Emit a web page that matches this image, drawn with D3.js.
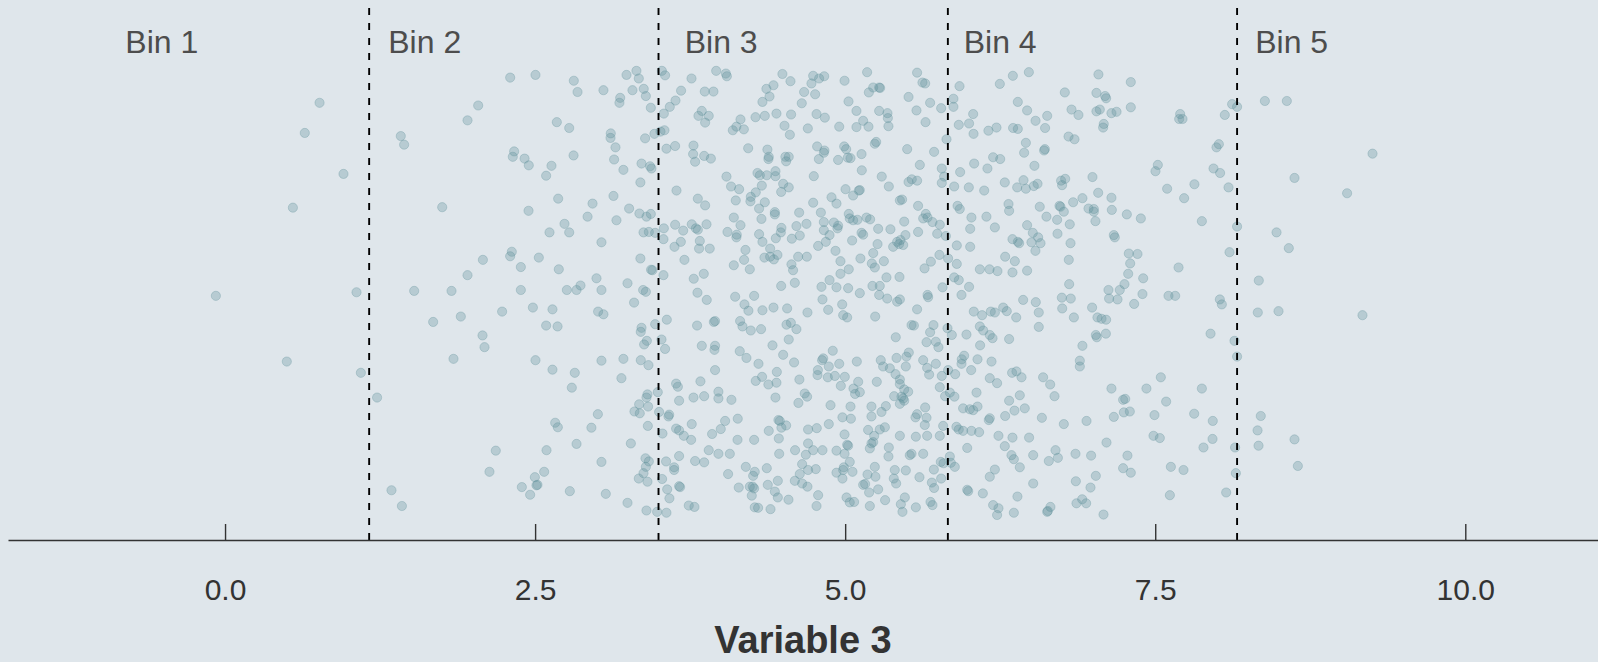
<!DOCTYPE html>
<html>
<head>
<meta charset="utf-8">
<script src="https://cdnjs.cloudflare.com/ajax/libs/d3/7.8.5/d3.min.js"></script>
<style>
	body { margin: 0; background: #dfe6eb; }
	svg { display: block; }
</style>
</head>
<body>
<div id="chart"></div>
<script>
// bin boundaries and labels
var binEdges = [1.162, 3.495, 5.828, 8.160];
var binLabels = ["Bin 1", "Bin 2", "Bin 3", "Bin 4", "Bin 5"];
var binLabelX = [-0.51, 1.61, 4.0, 6.25, 8.6];
var xTicks = [0, 2.5, 5, 7.5, 10];
var xTitle = "Variable 3";

// [variable 3, vertical jitter]
var points = [
[0.762,0.916],[0.643,0.849],[0.955,0.758],[0.547,0.683],[-0.074,0.487],[1.060,0.495],[0.498,0.341],[1.095,0.316],[1.226,0.261],
[8.384,0.920],[8.561,0.920],[9.252,0.803],[8.623,0.749],[9.047,0.715],[8.478,0.628],[8.577,0.593],[8.335,0.521],[8.327,0.450],[8.494,0.453],
[9.171,0.444],[8.351,0.220],[8.325,0.188],[8.623,0.168],[8.333,0.154],[8.650,0.109],
[2.299,0.972],[2.503,0.978],[2.812,0.965],[2.842,0.940],[2.041,0.910],[1.955,0.877],[2.675,0.873],[2.775,0.860],[1.417,0.842],[1.444,0.823],
[2.331,0.808],[2.320,0.796],[2.415,0.792],[2.449,0.777],[2.810,0.799],[2.632,0.776],[2.589,0.754],[1.751,0.684],[2.686,0.703],[2.447,0.676],
[2.923,0.663],[2.737,0.647],[2.775,0.628],[2.616,0.628],[2.312,0.585],[2.299,0.575],[2.079,0.567],[2.530,0.572],[2.385,0.551],[2.691,0.546],
[1.955,0.533],[2.866,0.510],
[1.525,0.498],[1.826,0.498],[2.385,0.500],[2.756,0.500],[2.834,0.500],[1.678,0.429],[1.901,0.441],[2.234,0.452],[2.482,0.461],[2.640,0.457],
[2.589,0.421],[2.681,0.419],[2.076,0.399],[2.092,0.373],[1.842,0.347],[2.503,0.344],[2.640,0.323],[2.820,0.316],[2.796,0.283],[2.662,0.205],
[2.683,0.195],[2.834,0.158],[2.183,0.143],[2.592,0.144],[2.132,0.096],[2.573,0.096],[2.498,0.084],[2.511,0.066],[2.519,0.067],[2.393,0.062],
[2.460,0.045],[2.780,0.053],[1.342,0.055],[1.426,0.020],
[3.237,0.978],[3.317,0.987],[3.336,0.970],[3.051,0.944],[3.285,0.944],[3.376,0.947],[3.393,0.931],[3.186,0.927],[3.180,0.916],[3.433,0.905],
[3.522,0.987],[3.548,0.977],[3.761,0.970],[3.960,0.987],[4.038,0.981],[4.046,0.975],[3.677,0.943],[3.632,0.921],[3.586,0.907],[3.538,0.892],
[3.868,0.941],[3.938,0.941],[3.844,0.898],[3.817,0.887],[3.900,0.887],[3.871,0.872],[4.494,0.980],[4.559,0.964],[4.365,0.947],[4.422,0.955],
[4.669,0.940],[4.390,0.930],[4.333,0.918],[4.650,0.915],[4.277,0.884],[4.352,0.887],[4.446,0.892],[4.564,0.890],[4.156,0.879],[4.094,0.855],
[4.123,0.863],[4.183,0.857],[4.511,0.865],[4.554,0.845],[4.699,0.859],[3.110,0.848],[3.108,0.838],[3.148,0.817],[3.137,0.790],[3.212,0.767],
[3.387,0.837],[3.462,0.847],[3.511,0.852],[3.543,0.855],[3.559,0.814],[3.629,0.820],[3.777,0.821],[3.774,0.802],[3.790,0.785],[3.863,0.798],
[3.917,0.792],[3.358,0.781],[3.427,0.775],[3.438,0.770],[3.349,0.739],[4.218,0.815],[4.373,0.812],[4.384,0.796],[4.381,0.791],[4.518,0.796],
[4.545,0.796],[4.524,0.786],[4.438,0.764],[4.438,0.753],[4.368,0.755],[4.312,0.755],[4.293,0.760],[4.328,0.732],[4.043,0.752],[4.080,0.730],
[4.145,0.724],[4.500,0.736],[4.545,0.728],[4.484,0.718],[4.279,0.717],[4.239,0.707],[4.236,0.697],[4.118,0.699],[4.352,0.695],[4.306,0.681],
[4.433,0.673],[4.433,0.668],[4.629,0.672],[4.325,0.658],[4.102,0.661],[4.156,0.644],[4.051,0.629],[4.126,0.623],[4.123,0.617],[4.306,0.624],
[4.333,0.607],[4.441,0.615],[4.486,0.638],[4.481,0.628],[4.570,0.614],[4.634,0.621],[4.607,0.642],[4.688,0.647],[4.395,0.592],[4.196,0.589],
[4.185,0.567],[4.349,0.572],[4.395,0.574],[4.425,0.568],[4.454,0.578],[4.621,0.574],[4.691,0.574],[4.567,0.557],[4.580,0.544],[4.594,0.516],
[4.231,0.546],[4.102,0.555],[4.484,0.509],[3.132,0.709],[2.963,0.692],[3.258,0.681],[3.341,0.670],[3.398,0.663],[3.433,0.669],[3.156,0.655],
[3.035,0.606],[3.374,0.628],[3.417,0.629],[3.468,0.627],[3.538,0.637],[3.535,0.613],[3.629,0.645],[3.694,0.632],[3.763,0.646],[3.796,0.637],
[3.812,0.634],[3.882,0.646],[3.624,0.596],[3.675,0.607],[3.828,0.609],[3.822,0.592],[3.908,0.592],[3.640,0.721],[3.812,0.703],[3.871,0.688],
[3.349,0.570],[3.435,0.545],[3.446,0.544],[3.535,0.533],[3.704,0.567],[3.779,0.525],[3.860,0.536],[2.995,0.526],[3.245,0.515],
[3.035,0.500],[3.371,0.500],[3.393,0.496],[3.809,0.494],[3.884,0.478],[4.113,0.485],[4.266,0.487],[3.298,0.472],[3.008,0.452],[3.051,0.446],
[3.358,0.416],[3.352,0.407],[3.468,0.424],[3.562,0.434],[3.401,0.387],[3.379,0.379],[3.519,0.390],[3.548,0.369],[3.806,0.421],[3.941,0.429],
[3.951,0.431],[3.844,0.376],[3.951,0.376],[3.946,0.367],[4.153,0.431],[4.172,0.419],[4.239,0.410],[4.220,0.454],[4.188,0.468],[4.333,0.455],
[4.422,0.461],[4.532,0.459],[4.696,0.450],[4.322,0.413],[4.527,0.423],[4.562,0.427],[4.607,0.413],[4.545,0.390],[4.414,0.377],[4.150,0.364],
[4.204,0.349],[4.500,0.356],[4.588,0.339],[4.301,0.336],[3.035,0.343],[3.212,0.347],[3.352,0.344],[3.414,0.333],[3.196,0.304],[3.951,0.322],
[4.279,0.298],[4.330,0.307],[4.381,0.290],[4.449,0.318],[4.446,0.294],[4.631,0.301],[3.833,0.297],[3.637,0.292],[3.651,0.285],[3.661,0.254],
[3.777,0.261],[3.863,0.264],[3.978,0.274],[3.978,0.259],[4.083,0.256],[4.438,0.261],[4.623,0.249],[4.674,0.270],[4.693,0.263],[3.406,0.268],
[3.398,0.261],[3.489,0.273],[3.339,0.246],[3.411,0.241],[3.301,0.230],[3.344,0.226],[3.006,0.224],[3.500,0.229],[3.581,0.223],[3.575,0.219],
[2.954,0.194],[3.409,0.198],[3.527,0.181],[3.637,0.192],[3.661,0.188],[3.699,0.176],[3.758,0.167],[3.763,0.202],[3.927,0.180],[3.997,0.191],
[4.032,0.209],[4.134,0.214],[4.132,0.167],[4.266,0.167],[4.384,0.187],[4.462,0.211],[4.473,0.209],[4.486,0.194],[4.524,0.199],[4.465,0.170],
[4.701,0.190],[3.272,0.159],[3.035,0.118],[3.390,0.126],[3.417,0.119],[3.393,0.107],[3.374,0.093],[3.336,0.081],[3.406,0.074],[3.556,0.119],
[3.621,0.106],[3.621,0.100],[3.661,0.131],[3.790,0.120],[3.863,0.117],[3.900,0.144],[3.978,0.136],[4.070,0.136],[4.468,0.136],[4.596,0.144],
[4.701,0.159],[4.683,0.134],[4.653,0.113],[4.701,0.100],[3.524,0.080],[3.565,0.057],[3.583,0.037],[3.661,0.064],[3.669,0.062],[3.739,0.021],
[3.785,0.018],[3.245,0.027],[3.070,0.047],[3.398,0.010],[3.484,0.007],[3.559,0.005],[4.056,0.091],[4.142,0.061],[4.199,0.107],[4.271,0.096],
[4.258,0.087],[4.368,0.104],[4.231,0.063],[4.255,0.063],[4.266,0.059],[4.247,0.043],[4.376,0.067],[4.457,0.076],[4.433,0.052],[4.457,0.039],
[4.543,0.034],[4.594,0.076],[4.634,0.091],[4.653,0.070],[4.696,0.063],[4.271,0.017],[4.298,0.016],[4.398,0.013],
[4.742,0.976],[4.790,0.970],[4.831,0.975],[4.728,0.959],[4.758,0.935],[4.995,0.965],[5.177,0.984],[5.226,0.950],[5.274,0.950],[5.282,0.949],
[5.191,0.939],[5.027,0.919],[5.091,0.898],[5.274,0.898],[5.341,0.893],[5.344,0.882],[5.349,0.864],[5.145,0.876],[5.188,0.863],[5.091,0.862],
[4.952,0.863],[4.769,0.891],[4.836,0.883],[4.774,0.819],[4.833,0.810],[4.828,0.805],[4.788,0.791],[4.943,0.789],[4.992,0.819],[5.008,0.813],
[5.021,0.794],[5.043,0.793],[5.132,0.802],[5.239,0.825],[5.250,0.829],[5.134,0.766],[4.747,0.753],[5.295,0.752],[5.352,0.730],[5.003,0.724],
[5.118,0.722],[5.110,0.721],[5.064,0.710],[4.890,0.706],[4.930,0.692],[4.742,0.694],[4.804,0.672],[4.828,0.651],[4.909,0.650],[4.943,0.643],
[4.938,0.637],[4.874,0.622],[4.828,0.633],[4.844,0.607],[4.782,0.598],[5.029,0.669],[5.037,0.659],[5.064,0.655],[5.099,0.656],
[5.172,0.661],[5.201,0.657],[5.132,0.627],[5.145,0.623],[5.056,0.610],[5.266,0.636],[5.365,0.635],[5.261,0.602],[4.922,0.587],[4.962,0.564],
[5.029,0.546],[4.962,0.536],[4.874,0.522],[4.809,0.507],[4.930,0.506],[5.024,0.504],[5.226,0.582],[5.215,0.559],[5.239,0.550],[5.123,0.570],
[5.312,0.564],[5.333,0.528],[5.438,0.529],[5.220,0.509],[5.279,0.509],[5.580,0.983],[5.623,0.961],[5.645,0.959],[5.511,0.929],[5.575,0.899],
[5.685,0.916],[5.648,0.873],[5.774,0.904],[5.873,0.925],[5.873,0.907],[5.500,0.813],[5.602,0.778],[5.717,0.807],[5.817,0.835],[5.779,0.770],
[5.798,0.752],[5.779,0.738],[5.511,0.740],[5.537,0.746],[5.580,0.743],[5.441,0.699],[5.459,0.701],[5.588,0.687],[5.650,0.669],[5.664,0.661],
[5.704,0.651],[5.629,0.659],[5.763,0.645],[5.742,0.625],[5.812,0.620],[5.476,0.652],[5.588,0.629],[5.486,0.622],[5.419,0.607],[5.446,0.611],
[5.435,0.602],[5.387,0.596],[5.468,0.600],[5.640,0.548],[5.691,0.563],[5.760,0.578],[5.830,0.570],[5.785,0.506],[5.879,0.528],[5.916,0.522],
[5.900,0.558],[5.900,0.599],[6.008,0.596],[6.018,0.661],[6.008,0.636],[6.207,0.639],[6.139,0.663],[5.924,0.680],[5.906,0.687],[5.879,0.730],
[5.997,0.728],[6.121,0.721],[5.927,0.762],[6.040,0.781],[6.147,0.770],[6.193,0.795],[6.250,0.791],[5.916,0.867],[5.999,0.870],[6.032,0.891],
[6.035,0.847],[6.155,0.854],[6.220,0.861],[6.354,0.860],[6.392,0.858],[5.922,0.953],[6.247,0.958],[6.352,0.976],[6.392,0.918],[6.467,0.899],
[6.481,0.984],[6.457,0.827],[6.443,0.805],[6.438,0.744],[6.387,0.728],[6.457,0.725],[6.287,0.739],[6.317,0.691],[6.322,0.676],[6.467,0.644],
[6.349,0.613],[6.392,0.607],[6.290,0.574],[6.368,0.564],[6.349,0.539],[6.467,0.543],[6.086,0.546],[6.164,0.546],[6.228,0.542],[5.999,0.507],
[6.403,0.604],
[5.118,0.493],[5.274,0.489],[5.339,0.481],[5.419,0.474],[5.441,0.479],[5.664,0.489],[5.669,0.484],[5.938,0.489],
[4.817,0.479],[4.863,0.456],[4.976,0.468],[4.984,0.444],[5.016,0.439],[5.242,0.441],[5.580,0.457],[5.535,0.422],[5.554,0.421],
[5.408,0.395],[5.656,0.384],[5.685,0.406],[5.712,0.422],[5.731,0.385],[5.752,0.373],[5.825,0.415],[5.860,0.400],[5.978,0.401],[6.037,0.452],
[6.104,0.444],[6.174,0.452],[6.207,0.450],[6.274,0.461],[6.303,0.453],[6.379,0.439],[6.435,0.478],[6.086,0.419],[6.113,0.410],[6.166,0.400],
[6.188,0.393],[6.322,0.391],[6.088,0.377],[4.900,0.365],[4.823,0.348],[4.814,0.344],[4.952,0.336],[4.868,0.330],[4.780,0.322],[4.777,0.311],
[4.860,0.306],[4.917,0.309],[4.997,0.307],[4.965,0.287],[5.094,0.341],[5.287,0.344],[5.306,0.330],[5.360,0.326],[5.414,0.349],[5.494,0.352],
[5.513,0.361],[5.489,0.330],[5.406,0.313],[5.441,0.301],[5.629,0.344],[5.661,0.327],[5.731,0.336],[5.677,0.312],[5.779,0.309],[5.887,0.313],
[5.830,0.322],[5.940,0.346],[5.959,0.354],[5.938,0.336],[6.016,0.322],[6.067,0.346],[6.180,0.341],[6.166,0.304],[6.225,0.293],[6.346,0.316],
[6.381,0.319],[6.422,0.306],[5.067,0.281],[5.105,0.296],[5.080,0.269],[5.118,0.273],[5.043,0.241],[4.882,0.244],[5.255,0.296],
[5.395,0.264],[5.441,0.291],[5.476,0.279],[5.508,0.274],[5.454,0.263],[5.468,0.259],[5.441,0.247],[5.476,0.254],[5.328,0.242],[5.293,0.229],
[5.212,0.241],[5.212,0.219],[4.978,0.217],[5.046,0.214],[4.868,0.202],[4.771,0.193],[4.995,0.179],[5.185,0.189],[5.234,0.176],
[5.212,0.159],[5.226,0.162],[5.279,0.190],[5.320,0.195],[5.441,0.176],[5.570,0.174],[5.661,0.176],[5.763,0.176],[5.645,0.239],[5.580,0.224],
[5.656,0.216],[5.567,0.217],[5.642,0.200],[5.790,0.198],[5.763,0.284],[5.806,0.264],[5.881,0.263],[5.844,0.272],[6.059,0.272],[5.951,0.237],
[6.005,0.235],[6.032,0.233],[6.067,0.241],[5.897,0.196],[5.916,0.190],[5.951,0.187],[6.018,0.187],[6.080,0.184],[6.158,0.211],[6.166,0.215],
[6.290,0.220],[6.322,0.254],[6.408,0.266],[6.448,0.237],[6.365,0.232],[6.236,0.176],[6.349,0.172],[6.483,0.172],[5.984,0.149],[6.287,0.153],
[6.341,0.133],[6.360,0.124],[6.408,0.106],[6.207,0.101],[6.166,0.085],[4.742,0.144],[4.817,0.144],[4.930,0.143],[5.016,0.156],
[5.024,0.154],[4.995,0.136],[5.199,0.148],[5.352,0.150],[5.349,0.130],[5.535,0.136],[5.629,0.136],[5.521,0.133],[5.844,0.130],[5.852,0.116],
[5.884,0.107],[5.771,0.118],[5.715,0.101],[5.793,0.115],[5.037,0.118],[4.989,0.106],[4.984,0.100],[4.763,0.102],[4.930,0.094],
[4.978,0.081],[5.059,0.096],[5.180,0.090],[5.244,0.085],[5.239,0.107],[5.400,0.100],[5.489,0.099],[5.392,0.081],[5.411,0.070],[5.599,0.084],
[5.699,0.072],[5.717,0.060],[5.774,0.081],[5.145,0.067],[5.161,0.069],[5.193,0.050],[5.266,0.057],[4.782,0.044],[4.769,0.020],[5.011,0.039],
[5.037,0.028],[5.072,0.029],[5.199,0.020],[5.322,0.033],[5.449,0.024],[5.481,0.039],[5.462,0.007],[5.570,0.017],[5.688,0.029],[5.704,0.022],
[5.984,0.056],[5.992,0.053],[6.110,0.048],[6.193,0.022],[6.236,0.015],[6.225,0.000],[6.389,0.041],[6.360,0.005],
[7.042,0.979],[7.303,0.962],[6.771,0.939],[7.026,0.938],[7.096,0.931],[7.104,0.926],[6.825,0.901],[6.881,0.889],[7.026,0.897],[7.053,0.901],
[7.147,0.893],[7.188,0.896],[7.303,0.906],[6.535,0.876],[6.629,0.887],[6.612,0.860],[6.801,0.841],[6.849,0.835],[7.085,0.869],[7.080,0.861],
[6.610,0.813],[6.604,0.810],[6.526,0.776],[6.521,0.731],[6.551,0.736],[6.741,0.743],[6.774,0.747],[6.749,0.733],[6.994,0.751],[7.040,0.716],
[6.913,0.704],[6.838,0.695],[6.728,0.687],[6.736,0.685],[6.763,0.674],[6.569,0.685],[6.623,0.663],[6.709,0.656],[6.811,0.646],[6.962,0.681],
[7.005,0.680],[7.005,0.674],[7.018,0.653],[7.147,0.705],[7.150,0.678],[7.271,0.668],[7.384,0.659],[7.166,0.622],[7.174,0.617],[6.513,0.627],
[6.556,0.617],[6.575,0.604],[6.502,0.606],[6.534,0.587],[6.712,0.625],[6.817,0.604],[6.803,0.567],[7.287,0.581],[7.357,0.580],[7.298,0.559],
[7.282,0.536],[7.403,0.526],[7.252,0.513],[6.806,0.513],[7.521,0.778],[7.502,0.764],[7.596,0.725],[7.733,0.704],[7.816,0.735],[7.876,0.653],
[7.701,0.891],[7.693,0.880],[7.720,0.880],[8.061,0.889],[8.120,0.913],[8.160,0.907],[7.994,0.817],[8.013,0.824],[7.970,0.770],[8.023,0.760],
[8.091,0.728],[8.160,0.641],[8.099,0.584],[7.688,0.550],
[7.123,0.500],[7.214,0.500],[7.128,0.481],[7.196,0.479],[7.397,0.491],[7.607,0.487],[7.661,0.487],[8.021,0.479],[8.037,0.468],
[6.537,0.473],[6.561,0.450],[6.561,0.418],[6.747,0.483],[6.819,0.481],[6.750,0.459],[6.844,0.439],[6.991,0.461],[7.034,0.439],[7.067,0.436],
[7.104,0.434],[7.330,0.469],[7.021,0.400],[7.029,0.395],[7.102,0.403],[6.913,0.376],[6.892,0.343],[6.892,0.330],[7.946,0.403],[8.139,0.387],
[8.160,0.352],[6.596,0.306],[6.653,0.290],[6.688,0.264],[7.147,0.281],[7.429,0.281],[7.545,0.306],[7.876,0.281],[7.241,0.256],[7.258,0.258],
[7.247,0.228],[7.295,0.230],[7.166,0.218],[7.588,0.252],[7.494,0.222],[7.814,0.225],[7.964,0.209],[6.586,0.216],[6.763,0.202],[6.946,0.209],
[6.516,0.133],[6.642,0.120],[6.696,0.144],[6.715,0.127],[6.857,0.136],[6.983,0.132],[7.107,0.161],[7.276,0.132],[7.486,0.176],[7.537,0.171],
[7.962,0.169],[7.889,0.150],[8.144,0.150],[7.241,0.104],[7.303,0.094],[7.626,0.107],[7.728,0.100],[8.150,0.093],[6.516,0.070],[6.860,0.075],
[7.021,0.087],[6.978,0.061],[6.865,0.026],[6.911,0.035],[6.943,0.026],[6.629,0.007],[6.634,0.009],[6.655,0.018],[7.083,0.001],[7.618,0.044],
[8.072,0.050]
];

var width = 1598,
	height = 662,
	margin = {top: 0, right: 0, bottom: 122, left: 8},
	axisY = height - margin.bottom;

var svg = d3.select("#chart")
	.append("svg")
	.attr("width", width)
	.attr("height", height)
	.style("font-family", "'Liberation Sans', Arial, sans-serif");

svg.append("rect")
	.attr("width", width)
	.attr("height", height)
	.attr("fill", "#dfe6eb");

var x = d3.scaleLinear()
	.domain([-1.75, 11.07])
	.range([margin.left, width - margin.right]);

// jitter has no meaning, it only spreads the points
var y = d3.scaleLinear()
	.domain([0, 1])
	.range([axisY - 25, 65]);

svg.append("g")
	.selectAll("circle")
	.data(points)
	.enter().append("circle")
	.attr("cx", function(d) { return x(d[0]); })
	.attr("cy", function(d) { return y(d[1]); })
	.attr("r", 4.6)
	.style("fill", "#5c8f99")
	.style("fill-opacity", 0.3)
	.style("stroke", "#5c8f99")
	.style("stroke-opacity", 0.3)
	.style("stroke-width", 1);

svg.append("g")
	.selectAll("line")
	.data(binEdges)
	.enter().append("line")
	.attr("x1", function(d) { return x(d); })
	.attr("x2", function(d) { return x(d); })
	.attr("y1", axisY)
	.attr("y2", 0)
	.style("stroke", "#000")
	.style("stroke-width", 1.9)
	.style("stroke-dasharray", "7,8");

svg.append("g")
	.selectAll("text")
	.data(binLabels)
	.enter().append("text")
	.attr("x", function(d, i) { return x(binLabelX[i]); })
	.attr("y", 52.5)
	.attr("text-anchor", "middle")
	.style("font-size", "32px")
	.style("fill", "#4d4d4d")
	.text(function(d) { return d; });

var xAxis = d3.axisBottom(x)
	.tickValues(xTicks)
	.tickFormat(d3.format(".1f"))
	.tickSizeInner(-16)
	.tickSizeOuter(0)
	.tickPadding(39);

var gx = svg.append("g")
	.attr("class", "x axis")
	.attr("transform", "translate(0," + axisY + ")")
	.call(xAxis);

gx.select(".domain").style("stroke", "#333").style("stroke-width", 1.4);
gx.selectAll(".tick line").style("stroke", "#333").style("stroke-width", 1.4);
gx.selectAll(".tick text")
	.style("font-family", "'Liberation Sans', Arial, sans-serif")
	.style("font-size", "30px")
	.style("fill", "#333");

svg.append("text")
	.attr("x", (x.range()[0] + x.range()[1]) / 2)
	.attr("y", 653)
	.attr("text-anchor", "middle")
	.style("font-size", "38px")
	.style("font-weight", "bold")
	.style("fill", "#333")
	.text(xTitle);
</script>
</body>
</html>
